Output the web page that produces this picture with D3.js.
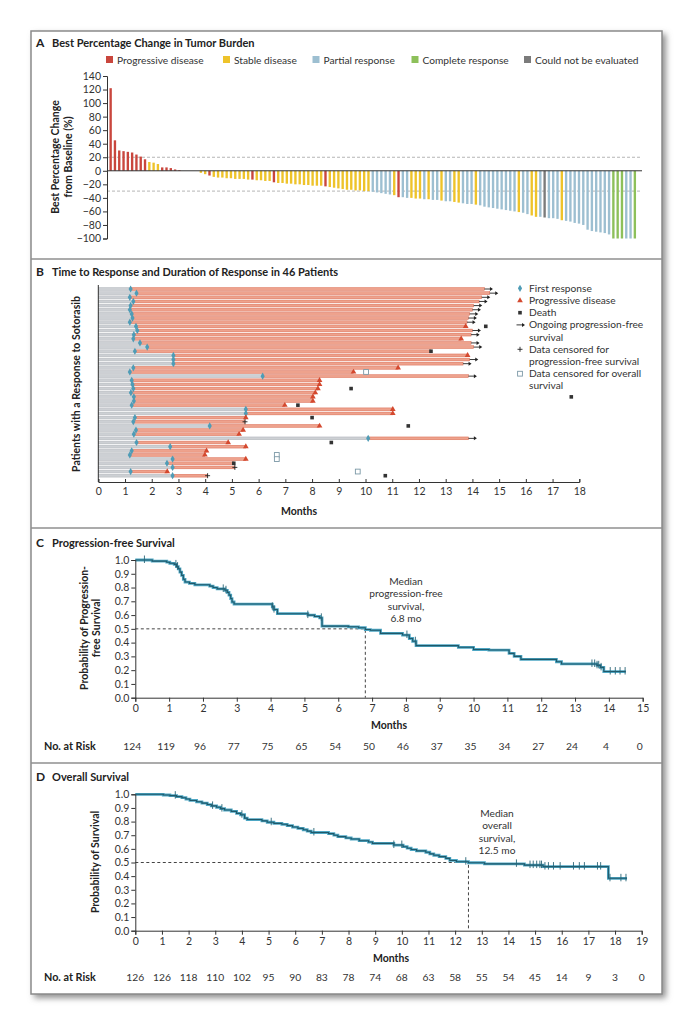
<!DOCTYPE html>
<html><head><meta charset="utf-8">
<script src="https://cdn.jsdelivr.net/npm/d3@7"></script>
<style>
body{margin:0;background:#fff;}
svg{display:block;font-family:Lato,"Open Sans",sans-serif;}
</style></head><body>
<svg id="c" width="693" height="1024"></svg>
<script>
// ---------- DATA ----------
const responseCategories = ["Progressive disease","Stable disease","Partial response","Complete response","Could not be evaluated"];
const responseCodes = ["PD","SD","PR","CR","NE"];
const waterfallTicks = [140,120,100,80,60,40,20,0,-20,-40,-60,-80,-100];
const waterfallThresholds = [20,-30];
const waterfallValues = [122,45,30,29,28,27,24,21,17,13,12,10,5,5,4,2,1,0,0,0,0,
 -3,-5,-7,-9,-10,-10,-11,-11,-12,-12,-12,-13,-13,-14,-14,-15,-15,-17,
 -18,-18,-19,-19,-20,-20,-21,-21,-22,-22,-22,-23,
 -24,-25,-26,-27,-28,-28,-29,-29,-30,-30,
 -31,-32,-33,-34,-35,-36,-39,-39,-40,-40,-41,-41,-42,-42,-43,-43,-44,-45,-45,-46,-47,
 -48,-49,-49,-50,-51,-53,-54,-55,-56,-57,-58,-59,-60,-61,-62,-64,-66,-68,-68,-69,
 -70,-70,-71,-73,-74,-75,-77,-78,-80,-87,-89,-90,-91,-92,-94,-100,-100,-100,-100,-100,-100];
const waterfallResponse = ["PD","PD","PD","PD","PD","PD","PD","PD","PD","SD","SD","SD","PD","PD","PD","PD","PD","SD","SD","SD","SD",
 "SD","SD","PD","SD","SD","SD","SD","SD","SD","SD","SD","SD","PD","SD","SD","SD","SD","PD",
 "SD","SD","SD","SD","SD","SD","SD","SD","SD","SD","SD","PD",
 "SD","SD","SD","SD","SD","SD","SD","SD","SD","SD",
 "PR","PR","PR","PR","PR","SD","PD","PR","PR","SD","SD","SD","PR","SD","PR","PR","SD","PR","PR","SD","SD",
 "PR","PR","PR","SD","PR","PR","PR","PR","PR","PR","PR","PR","PR","SD","PR","PR","SD","SD","PR","NE",
 "PR","PR","PR","SD","PR","PR","PR","PR","PR","PR","PR","PR","PR","PR","PR","CR","CR","CR","PR","PR","CR"];

// Swimmer plot (46 patients), months
const swimResponse = [1.21,1.43,1.18,1.31,1.21,1.18,1.25,1.28,1.18,1.41,1.46,1.33,1.31,1.56,1.83,1.37,2.81,2.81,2.81,1.31,1.18,6.15,1.25,1.28,1.31,1.22,1.33,1.33,1.25,5.52,5.52,1.37,1.31,4.17,1.41,1.33,10.1,1.43,2.69,1.25,1.18,2.78,2.57,2.78,1.21,2.78];
const swimEnd = [14.45,14.65,14.35,14.25,14.05,14.0,13.9,13.85,13.8,13.75,14.0,13.95,13.58,13.95,14.05,12.45,13.82,13.9,13.65,11.22,9.55,13.85,8.28,8.28,8.22,8.12,8.03,8.03,6.98,11.02,11.02,5.52,5.49,8.28,5.42,5.27,13.85,4.86,5.52,4.05,3.99,5.52,5.07,5.11,2.58,4.09];
const swimEndMark = ["arrow","arrow","arrow","arrow","arrow","arrow","arrow","arrow","arrow","pd","arrow","arrow","pd","arrow","arrow","death","pd","arrow","arrow","pd","pd","arrow","pd","pd","pd","pd","pd","pd","pd","pd","pd","pd","censor","pd","pd","pd","arrow","pd","pd","pd","pd","pd","death","censor","pd","censor"];
const swimDeath = [null,null,null,null,null,null,null,null,null,14.5,null,null,null,null,null,null,null,null,null,null,null,null,null,null,9.46,null,17.7,null,7.47,null,null,8.0,null,11.6,null,null,null,8.72,null,null,null,null,null,null,null,10.74];
const swimOsCensor = [null,null,null,null,null,null,null,null,null,null,null,null,null,null,null,null,null,null,null,null,10.02,null,null,null,null,null,null,null,null,null,null,null,null,null,null,null,null,null,null,null,6.68,6.68,null,null,9.71,null];
const swimLegend = ["First response","Progressive disease","Death","Ongoing progression-free|survival","Data censored for|progression-free survival","Data censored for overall|survival"];

// Progression-free survival (Kaplan-Meier steps)
const pfsTime = [0,0.5,0.93,1.02,1.15,1.22,1.27,1.32,1.37,1.42,1.47,1.6,1.76,2.2,2.3,2.42,2.65,2.72,2.77,2.82,2.86,2.92,4.05,4.1,4.2,5.1,5.3,5.45,5.52,6.3,6.6,6.8,6.95,7.25,7.9,8.1,8.2,8.3,9.55,10.0,10.45,11.05,11.2,11.4,12.45,12.6,13.65,13.75,13.85,14.5];
const pfsSurv = [1.0,0.992,0.984,0.976,0.968,0.952,0.936,0.912,0.888,0.86,0.84,0.83,0.82,0.81,0.80,0.79,0.78,0.765,0.745,0.72,0.695,0.68,0.66,0.64,0.61,0.60,0.59,0.58,0.52,0.515,0.508,0.495,0.49,0.467,0.455,0.43,0.41,0.378,0.366,0.35,0.346,0.322,0.30,0.278,0.261,0.245,0.235,0.22,0.19,0.19];
const pfsCensor = [0.27,1.2,1.25,2.6,2.68,4.05,4.1,5.1,5.5,8.03,8.28,13.5,13.58,13.65,13.7,13.77,14.04,14.19,14.33,14.48];
const pfsAtRisk = [124,119,96,77,75,65,54,50,46,37,35,34,27,24,4,0];
const pfsMedian = 6.8;

// Overall survival
const osTime = [0,1.05,1.3,1.55,1.75,1.9,2.05,2.3,2.5,2.7,2.85,3.05,3.2,3.35,3.6,3.8,3.95,4.1,4.2,4.75,4.95,5.2,5.5,5.7,5.9,6.1,6.3,6.45,6.6,7.25,7.45,7.6,7.9,8.1,8.4,8.75,8.9,9.7,10.05,10.2,10.35,10.55,10.9,11.05,11.2,11.4,11.65,11.8,12.05,12.5,13.1,14.6,15.3,17.75,18.45];
const osSurv = [1,0.995,0.99,0.983,0.975,0.965,0.955,0.945,0.935,0.925,0.915,0.905,0.895,0.885,0.875,0.86,0.85,0.825,0.815,0.805,0.795,0.787,0.78,0.77,0.76,0.75,0.74,0.73,0.72,0.712,0.70,0.69,0.68,0.672,0.66,0.65,0.64,0.628,0.616,0.605,0.595,0.585,0.575,0.563,0.553,0.543,0.53,0.515,0.506,0.498,0.49,0.481,0.47,0.384,0.384];
const osCensor = [1.5,2.9,3.25,4.0,5.1,6.7,9.7,10.0,12.4,14.3,14.81,14.93,15.06,15.18,15.24,15.37,15.5,15.69,15.94,16.44,16.66,16.85,17.34,17.46,17.81,18.22,18.41];
const osAtRisk = [126,126,118,110,102,95,90,83,78,74,68,63,58,55,54,45,14,9,3,0];
const osMedian = 12.5;

// ---------- DRAW ----------
const svg = d3.select("#c");
const ink = "#333";
const colorA = d3.scaleOrdinal().domain(responseCodes).range(["#c9463d","#eec32a","#9dbfd1","#8dc05a","#7b7b7b"]);

// frame + shadow
const defs = svg.append("defs");
defs.append("filter").attr("id","sh").attr("x","-5%").attr("y","-5%").attr("width","115%").attr("height","115%")
  .append("feGaussianBlur").attr("stdDeviation",3);
svg.append("rect").attr("x",34).attr("y",34).attr("width",632).attr("height",964).attr("fill","#8f8f8f").attr("filter","url(#sh)");
svg.append("rect").attr("x",31).attr("y",31).attr("width",631).attr("height",963).attr("fill","#fff").attr("stroke","#8a8a8a").attr("stroke-width",1.5);
[259,528,763].forEach(y=>svg.append("line").attr("x1",31).attr("x2",662).attr("y1",y).attr("y2",y).attr("stroke","#8f8f8f").attr("stroke-width",1.5));

function title(letter, text, y){
  svg.append("text").attr("x",36).attr("y",y).attr("font-weight","bold").attr("font-size",12).attr("fill","#222").text(letter);
  svg.append("text").attr("x",52).attr("y",y).attr("font-weight","bold").attr("font-size",11).attr("fill","#222").text(text);
}
function styleAxis(g){
  g.selectAll("path").attr("stroke",ink).attr("stroke-width",1);
  g.selectAll("line").attr("stroke",ink).attr("stroke-width",1);
  g.selectAll("text").attr("fill",ink).attr("font-size",10.5).attr("font-family","Lato,'Open Sans',sans-serif");
}

// ===== Panel A =====
title("A","Best Percentage Change in Tumor Burden",47);
const legX = [106,223,312.5,411.5,524];
responseCodes.forEach((c,i)=>{
  svg.append("rect").attr("x",legX[i]).attr("y",56).attr("width",7).attr("height",7).attr("fill",colorA(c));
  svg.append("text").attr("x",legX[i]+11).attr("y",63.5).attr("font-size",10.2).attr("fill",ink).text(responseCategories[i]);
});
const xA = d3.scaleBand().domain(d3.range(waterfallValues.length)).range([108.5,637]).paddingInner(0.45).paddingOuter(0.225);
const yA = d3.scaleLinear().domain([-100,140]).range([238.5,76]);
const gA = svg.append("g");
waterfallThresholds.forEach(t=>gA.append("line").attr("x1",107).attr("x2",642).attr("y1",yA(t)).attr("y2",yA(t))
  .attr("stroke","#b5b5b5").attr("stroke-dasharray","3,2").attr("stroke-width",1));
gA.selectAll("rect.bar").data(waterfallValues).join("rect")
  .attr("x",(d,i)=>xA(i)).attr("width",xA.bandwidth())
  .attr("y",d=>Math.min(yA(d),yA(0))).attr("height",d=>Math.abs(yA(d)-yA(0)))
  .attr("fill",(d,i)=>colorA(waterfallResponse[i]));
gA.append("line").attr("x1",107).attr("x2",642).attr("y1",yA(0)).attr("y2",yA(0)).attr("stroke",ink).attr("stroke-width",1);
const axA = svg.append("g").attr("transform","translate(107,0)").call(d3.axisLeft(yA).tickValues(waterfallTicks).tickSize(4).tickPadding(2).tickFormat(d=>d<0?"\u2212"+Math.abs(d):d));
styleAxis(axA);
[["Best Percentage Change",59],["from Baseline (%)",72]].forEach(([t,x])=>
  svg.append("text").attr("transform",`translate(${x},157) rotate(-90)`).attr("text-anchor","middle")
   .attr("font-weight","bold").attr("font-size",10.5).attr("fill","#222").text(t));

// ===== Panel B =====
title("B","Time to Response and Duration of Response in 46 Patients",276);
const xB = d3.scaleLinear().domain([0,18]).range([98.3,579.3]);
const yB = d3.scaleLinear().domain([0,45]).range([289,475.7]);
const gB = svg.append("g");
const bh = 2.8;
swimResponse.forEach((r,i)=>{
  const y = yB(i);
  gB.append("rect").attr("x",xB(0)).attr("y",y-bh/2).attr("width",xB(Math.min(r,swimEnd[i]))-xB(0)).attr("height",bh)
    .attr("fill","#cdd0d4").attr("stroke","#aeb2b7").attr("stroke-width",0.5);
  if(swimEnd[i]>r) gB.append("rect").attr("x",xB(r)).attr("y",y-bh/2).attr("width",xB(swimEnd[i])-xB(r)).attr("height",bh)
    .attr("fill","#eea28d").attr("stroke","#d9694f").attr("stroke-width",0.5);
});
const sym = (type,size)=>d3.symbol().type(type).size(size)();
function drawMark(g,kind,x,y){
  if(kind==="diamond") g.append("path").attr("d",sym(d3.symbolDiamond,15)).attr("transform",`translate(${x},${y})`).attr("fill","#4f9cb6");
  else if(kind==="pd") g.append("path").attr("d",sym(d3.symbolTriangle,14)).attr("transform",`translate(${x},${y})`).attr("fill","#d4492f");
  else if(kind==="death") g.append("rect").attr("x",x-1.8).attr("y",y-1.8).attr("width",3.6).attr("height",3.6).attr("fill","#333");
  else if(kind==="arrow"){
    g.append("line").attr("x1",x).attr("x2",x+7).attr("y1",y).attr("y2",y).attr("stroke","#222").attr("stroke-width",0.9);
    g.append("path").attr("d",`M${x+8.5},${y} L${x+5.5},${y-2} L${x+5.5},${y+2} Z`).attr("fill","#222");
  } else if(kind==="censor"){
    g.append("line").attr("x1",x-2.5).attr("x2",x+2.5).attr("y1",y).attr("y2",y).attr("stroke","#222").attr("stroke-width",0.9);
    g.append("line").attr("x1",x).attr("x2",x).attr("y1",y-2.5).attr("y2",y+2.5).attr("stroke","#222").attr("stroke-width",0.9);
  } else if(kind==="os") g.append("rect").attr("x",x-2.4).attr("y",y-2.4).attr("width",4.8).attr("height",4.8).attr("fill","#fff").attr("stroke","#7b98a6").attr("stroke-width",0.9);
}
swimResponse.forEach((r,i)=>{
  const y = yB(i);
  drawMark(gB,"diamond",xB(r),y);
  drawMark(gB,swimEndMark[i],xB(swimEnd[i]),y);
  if(swimDeath[i]!=null) drawMark(gB,"death",xB(swimDeath[i]),y);
  if(swimOsCensor[i]!=null) drawMark(gB,"os",xB(swimOsCensor[i]),y);
});
svg.append("line").attr("x1",98.3).attr("x2",98.3).attr("y1",285).attr("y2",482).attr("stroke",ink);
const axB = svg.append("g").attr("transform","translate(0,482)").call(d3.axisBottom(xB).ticks(18).tickSize(-3).tickPadding(6));
styleAxis(axB);
svg.append("text").attr("x",299).attr("y",515).attr("text-anchor","middle").attr("font-weight","bold").attr("font-size",10.5).attr("fill","#222").text("Months");
svg.append("text").attr("transform","translate(80,384) rotate(-90)").attr("text-anchor","middle").attr("font-weight","bold").attr("font-size",10.5).attr("fill","#222").text("Patients with a Response to Sotorasib");
// legend B
const legKinds = ["diamond","pd","death","arrow","censor","os"];
let ly = 288.3;
swimLegend.forEach((t,i)=>{
  const k = legKinds[i];
  if(k==="arrow") drawMark(svg,"arrow",516.5,ly); else drawMark(svg,k,520,ly);
  t.split("|").forEach((line,j)=>{
    svg.append("text").attr("x",529).attr("y",ly+3.5+j*12.2).attr("font-size",10.2).attr("fill",ink).text(line);
  });
  ly += 12.2*t.split("|").length;
});

// ===== KM helper =====
function kmPanel(opt){
  const x = d3.scaleLinear().domain([0,opt.xmax]).range([135.3,opt.xr]);
  const y = d3.scaleLinear().domain([0,1]).range([opt.y0,opt.y1]);
  const g = svg.append("g");
  g.append("path").attr("d",`M${x(0)},${y(0.5)} H${x(opt.median)} V${y(0)}`).attr("fill","none")
    .attr("stroke","#444").attr("stroke-dasharray","3,2.5").attr("stroke-width",1);
  const pts = opt.time.map((t,i)=>[t,opt.surv[i]]);
  const line = d3.line().x(d=>x(d[0])).y(d=>y(d[1])).curve(d3.curveStepAfter);
  g.append("path").attr("d",line(pts)).attr("fill","none").attr("stroke","#4ea7c4").attr("stroke-width",2.8);
  g.append("path").attr("d",line(pts)).attr("fill","none").attr("stroke","#1f5869").attr("stroke-width",1.1);
  const survAt = t=>{let s=1; opt.time.forEach((tt,i)=>{if(tt<=t) s=opt.surv[i];}); return s;};
  opt.censor.forEach(t=>g.append("line").attr("x1",x(t)).attr("x2",x(t)).attr("y1",y(survAt(t))-4.5).attr("y2",y(survAt(t))+3)
    .attr("stroke","#2a6577").attr("stroke-width",0.9));
  const ay = svg.append("g").attr("transform",`translate(135.3,0)`).call(d3.axisLeft(y).ticks(10).tickSize(4).tickPadding(2).tickFormat(d3.format(".1f")));
  styleAxis(ay);
  const ax = svg.append("g").attr("transform",`translate(0,${opt.y0})`).call(d3.axisBottom(x).ticks(opt.xmax).tickSize(4).tickPadding(3));
  styleAxis(ax);
  svg.append("text").attr("x",opt.monthsX).attr("y",opt.monthsY).attr("text-anchor","middle").attr("font-weight","bold").attr("font-size",10.5).attr("fill","#222").text("Months");
  svg.append("text").attr("x",44).attr("y",opt.riskY).attr("font-weight","bold").attr("font-size",10.8).attr("fill","#222").text("No. at Risk");
  opt.atRisk.forEach((n,i)=>svg.append("text").attr("x",x(i)+opt.riskDx).attr("y",opt.riskY).attr("text-anchor","middle").attr("font-size",10.3).attr("fill",ink).text(n));
  opt.ylab.forEach((t,j)=>svg.append("text").attr("transform",`translate(${opt.ylabX[j]},${opt.ylabY}) rotate(-90)`).attr("text-anchor","middle")
    .attr("font-weight","bold").attr("font-size",10.5).attr("fill","#222").text(t));
  opt.note.forEach((t,j)=>svg.append("text").attr("x",opt.noteX).attr("y",opt.noteY+j*12.5).attr("text-anchor","middle").attr("font-size",10.2).attr("fill",ink).text(t));
}

title("C","Progression-free Survival",547);
kmPanel({xmax:15,xr:642.7,y0:697.7,y1:560,time:pfsTime,surv:pfsSurv,censor:pfsCensor,median:pfsMedian,
  monthsX:389,monthsY:729,riskY:749.5,riskDx:-3,atRisk:pfsAtRisk,
  ylab:["Probability of Progression-","free Survival"],ylabX:[88,100],ylabY:628,
  note:["Median","progression-free","survival,",pfsMedian+" mo"],noteX:406,noteY:584.5});

title("D","Overall Survival",781);
kmPanel({xmax:19,xr:641.7,y0:930.7,y1:794.3,time:osTime,surv:osSurv,censor:osCensor,median:osMedian,
  monthsX:391,monthsY:962,riskY:980.5,riskDx:0,atRisk:osAtRisk,
  ylab:["Probability of Survival"],ylabX:[99],ylabY:862,
  note:["Median","overall","survival,",osMedian+" mo"],noteX:497,noteY:816.5});
</script></body></html>
